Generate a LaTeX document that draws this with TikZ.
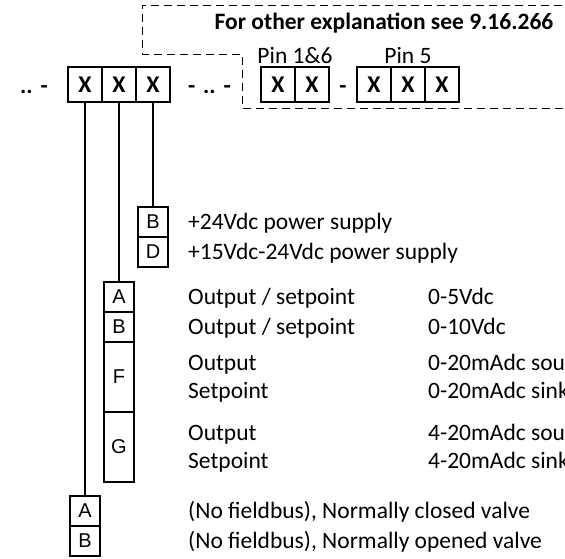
\documentclass[tikz,border=0pt]{standalone}
\usepackage{fontspec}
\setmainfont{Carlito}
\newfontfamily\boxfont{Liberation Sans}
\usetikzlibrary{positioning}

\begin{document}
\begin{tikzpicture}[x=1pt, y=-1pt, font=\fontsize{23.5}{28}\selectfont]
        \tikzstyle{xcell}=[draw, line width=1.4pt, minimum width=34pt, minimum height=35pt, inner sep=0pt, font=\fontsize{24}{24}\selectfont\bfseries]
        \tikzstyle{lbox}=[draw, line width=1.3pt, minimum width=30pt, minimum height=30pt, inner sep=0pt, font=\fontsize{20}{20}\selectfont\boxfont]
        \tikzstyle{desc}=[anchor=base west, inner sep=0pt]
        \tikzstyle{sep}=[anchor=base, inner sep=0pt, font=\fontsize{23.5}{28}\selectfont\bfseries]

        \useasboundingbox (0,0) rectangle (565,558);
        \clip (0,0) rectangle (565,558);

        % frame round the pin code
        \draw[dash pattern=on 8pt off 5pt, line width=0.9pt] (575,5) -- (142,5) -- (142,54) -- (242,54) -- (242,108) -- (575,108);
        \node (title) [sep] at (384,29) {For other explanation see 9.16.266};

        \matrix (code) [column sep=-1.4pt] at (119,84.5) {
            \node (x1) [xcell] {X}; &
            \node (x2) [xcell] {X}; &
            \node (x3) [xcell] {X}; \\
        };
        \node (pre)  [sep, anchor=base west] at (20,93) {..\,\,-};
        \node (post) [sep, anchor=base west] at (188,93) {-\,\,..\,\,-};

        \matrix (pin16) [column sep=-1.4pt] at (295,84.5) {
            \node (p1) [xcell] {X}; &
            \node (p2) [xcell] {X}; \\
        };
        \matrix (pin5) [column sep=-1.4pt] at (408,84.5) {
            \node (q1) [xcell] {X}; &
            \node (q2) [xcell] {X}; &
            \node (q3) [xcell] {X}; \\
        };
        \node (dash) [sep] at (343,93) {-};
        \node (lpin16) [anchor=base, inner sep=0pt] at (pin16.north |- 0,63) {Pin 1\&6};
        \node (lpin5)  [anchor=base, inner sep=0pt] at (pin5.north |- 0,63) {Pin 5};

        % option boxes
        \matrix (supply) [row sep=-1.3pt] at (153,237) {
            \node (sb) [lbox] {B}; \\
            \node (sd) [lbox] {D}; \\
        };
        \matrix (signal) [row sep=-1.3pt] at (119,382) {
            \node (ga) [lbox] {A}; \\
            \node (gb) [lbox] {B}; \\
            \node (gf) [lbox, minimum height=70pt] {F}; \\
            \node (gg) [lbox, minimum height=70pt] {G}; \\
        };
        \matrix (valve) [row sep=-1.3pt] at (85,526) {
            \node (va) [lbox] {A}; \\
            \node (vb) [lbox] {B}; \\
        };

        \draw[line width=1.3pt] (x1.south) -- (va.north)
                                (x2.south) -- (ga.north)
                                (x3.south) -- (sb.north);

        % descriptions
        \node [desc] at (188,229.5) {+24Vdc power supply};
        \node [desc] at (188,259.5) {+15Vdc-24Vdc power supply};
        \node [desc] at (188,304.5) {Output / setpoint};
        \node [desc] at (428,304.5) {0-5Vdc};
        \node [desc] at (188,334.5) {Output / setpoint};
        \node [desc] at (428,334.5) {0-10Vdc};
        \node [desc] at (188,370.5) {Output};
        \node [desc] at (428,370.5) {0-20mAdc source};
        \node [desc] at (188,398.5) {Setpoint};
        \node [desc] at (428,398.5) {0-20mAdc sink};
        \node [desc] at (188,440.5) {Output};
        \node [desc] at (428,440.5) {4-20mAdc source};
        \node [desc] at (188,468.5) {Setpoint};
        \node [desc] at (428,468.5) {4-20mAdc sink};
        \node [desc] at (188,518.5) {(No fieldbus), Normally closed valve};
        \node [desc] at (188,548.5) {(No fieldbus), Normally opened valve};
    \end{tikzpicture}
\end{document}
